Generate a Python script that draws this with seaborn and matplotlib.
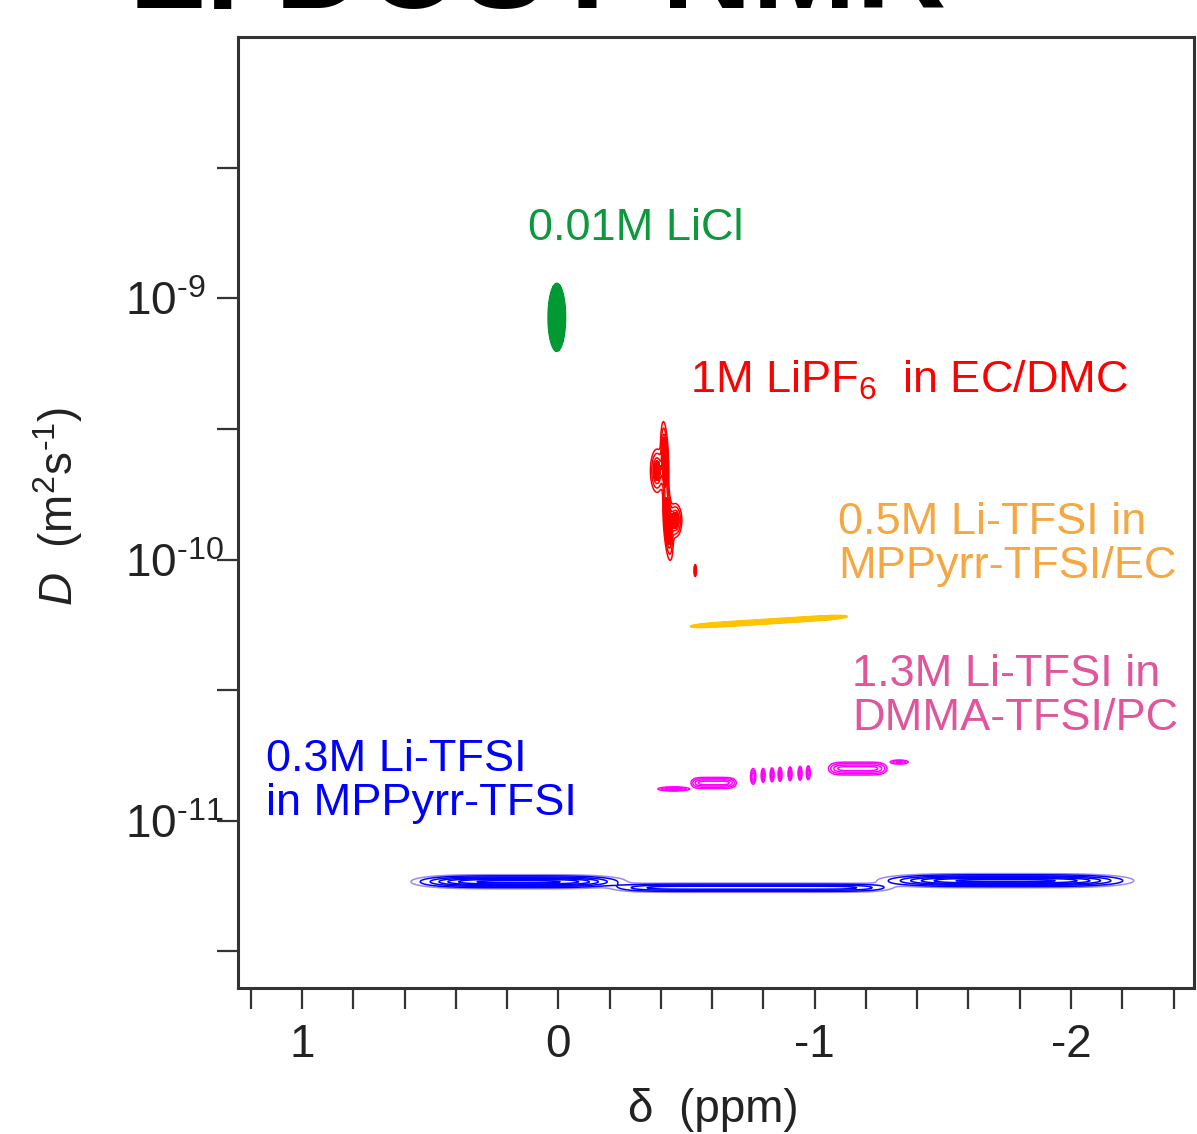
import numpy as np
import pandas as pd
import matplotlib
matplotlib.use('Agg')
import matplotlib.pyplot as plt
import seaborn as sns
from matplotlib.ticker import MultipleLocator, FixedLocator, FixedFormatter

# %% data
samples = ['LiCl', 'LiPF6', 'TFSI_EC', 'TFSI_PC', 'TFSI_IL']
line_colors = ['#009933', '#FF0000', '#FFC400', '#FF00FF', '#0000FF']
text_colors = ['#0A9A3C', '#FF0000', '#F5A742', '#E0559B', '#0000FF']
sample_labels = ['0.01M LiCl',
                 '1M LiPF$_6$  in EC/DMC',
                 '0.5M Li-TFSI in\nMPPyrr-TFSI/EC',
                 '1.3M Li-TFSI in\nDMMA-TFSI/PC',
                 '0.3M Li-TFSI\nin MPPyrr-TFSI']
label_delta = [0.117, -0.515, -1.092, -1.146, 1.142]
label_D = [1.85e-9, 4.86e-10, 1.14e-10, 3.0e-11, 1.41e-11]

# contour peak components (delta ppm, log10 D, half extents, slope, flatness, height)
peak_sample = ['LiCl',
               'LiPF6', 'LiPF6', 'LiPF6', 'LiPF6', 'LiPF6',
               'TFSI_EC',
               'TFSI_PC', 'TFSI_PC', 'TFSI_PC', 'TFSI_PC', 'TFSI_PC', 'TFSI_PC',
               'TFSI_PC', 'TFSI_PC', 'TFSI_PC', 'TFSI_PC', 'TFSI_PC',
               'TFSI_IL', 'TFSI_IL', 'TFSI_IL']
peak_delta = [0.006,
              -0.415, -0.428, -0.385, -0.456, -0.534,
              -0.821,
              -0.45, -0.606, -0.760, -0.799, -0.834, -0.865, -0.904, -0.943, -0.975, -1.168, -1.33,
              0.155, -0.755, -1.745]
peak_logD = [-9.073,
             -9.62, -9.86, -9.66, -9.85, -10.042,
             -10.237,
             -10.878, -10.855, -10.83, -10.826, -10.824, -10.822, -10.82, -10.818, -10.816,
             -10.80, -10.775,
             -11.233, -11.256, -11.229]
peak_half_delta = [0.034,
                   0.016, 0.02, 0.028, 0.028, 0.006,
                   0.306,
                   0.07, 0.092, 0.012, 0.009, 0.009, 0.009, 0.009, 0.009, 0.009, 0.119, 0.045,
                   0.42, 0.56, 0.50]
peak_half_logD = [0.13,
                  0.14, 0.13, 0.09, 0.07, 0.03,
                  0.009,
                  0.009, 0.024, 0.036, 0.032, 0.032, 0.032, 0.032, 0.032, 0.032, 0.028, 0.01,
                  0.027, 0.02, 0.027]
peak_slope = [0.0,
              3.0, 3.0, 0.0, 0.0, 0.0,
              -0.062,
              0.0, 0.0, 0.0, 0.0, 0.0, 0.0, 0.0, 0.0, 0.0, 0.0, 0.0,
              0.0, 0.0, 0.0]
peak_shape = [1,
              1, 1, 1, 1, 1,
              3,
              1, 3, 1, 1, 1, 1, 1, 1, 1, 3, 1,
              2, 4, 2]
peak_height = [1.0,
               1.0, 1.0, 0.7, 0.7, 0.4,
               1.0,
               0.6, 0.6, 0.5, 0.5, 0.5, 0.5, 0.5, 0.5, 0.5, 0.6, 0.4,
               1.0, 0.6, 1.0]

levels = [0.1, 0.2, 0.35, 0.5, 0.65, 0.8, 0.95]

peaks = pd.DataFrame({
    'sample': peak_sample, 'delta': peak_delta, 'logD': peak_logD,
    'hw': peak_half_delta, 'hh': peak_half_logD, 'k': peak_slope,
    'p': peak_shape, 'a': peak_height,
})

# %% style
sns.set_theme(style='ticks')
plt.rcParams['font.family'] = ['Liberation Sans', 'DejaVu Sans']
plt.rcParams['mathtext.fontset'] = 'custom'
plt.rcParams['mathtext.rm'] = 'Liberation Sans'
plt.rcParams['mathtext.it'] = 'Liberation Sans:italic'

fig = plt.figure(figsize=(11.97, 11.34), dpi=100)
ax = fig.add_axes([0.1988, 0.1287, 0.7987, 0.8387])
ax.set_yscale('log')

dg = np.linspace(1.25, -2.48, 1500)
lg = np.linspace(-11.64, -8.0, 2400)
X, Y = np.meshgrid(dg, lg)

fill_level = {'LiCl': 0.1, 'LiPF6': 0.45, 'TFSI_EC': 0.1}

for s, lc in zip(samples, line_colors):
    Z = np.zeros_like(X)
    for _, pk in peaks[peaks['sample'] == s].iterrows():
        dx = X - pk['delta']
        dy = Y - pk['logD'] - pk['k'] * dx
        r = (np.abs(dx) / pk['hw']) ** (2 * pk['p']) + (dy / pk['hh']) ** 2
        Z += pk['a'] * np.power(10.0, -np.minimum(r, 50))
    if s in fill_level:
        ax.contourf(X, 10 ** Y, Z, levels=[fill_level[s], 10], colors=[lc])
    cols = [lc] * len(levels)
    if s == 'TFSI_IL':
        cols[0] = '#9A8CF0'
    ax.contour(X, 10 ** Y, Z, levels=levels, colors=cols, linewidths=1.1)

for lab, x, y, c in zip(sample_labels, label_delta, label_D, text_colors):
    ax.text(x, y, lab, color=c, fontsize=32.5, ha='left', va='center', linespacing=1.1)

ax.set_xlim(1.25, -2.48)
ax.set_ylim(10 ** -11.64, 10 ** -8.0)

ax.set_xticks([1, 0, -1, -2])
ax.set_xticklabels(['1', '0', '-1', '-2'])
ax.xaxis.set_minor_locator(MultipleLocator(0.2))
ax.yaxis.set_major_locator(FixedLocator([1e-11, 1e-10, 1e-9]))
ax.yaxis.set_major_formatter(FixedFormatter([r'$10^{\text{-11}}$', r'$10^{\text{-10}}$',
                                             r'$10^{\text{-9}}$']))
ax.yaxis.set_minor_locator(FixedLocator([10 ** -11.5, 10 ** -10.5, 10 ** -9.5, 10 ** -8.5]))

for sp in ax.spines.values():
    sp.set_color('#333333')
    sp.set_linewidth(2.2)
ax.tick_params(which='both', direction='out', length=15, width=1.6, color='#333333',
               labelcolor='#222222')
ax.tick_params(axis='x', which='major', labelsize=33, pad=10)
ax.tick_params(axis='y', which='major', labelsize=33, pad=66)
ax.tick_params(which='minor', labelleft=False, labelbottom=False)
for lbl in ax.get_yticklabels():
    lbl.set_ha('left')

ax.set_xlabel('δ  (ppm)', fontsize=33, color='#222222')
ax.xaxis.label.set_va('center')
ax.xaxis.set_label_coords(0.497, -0.128)
ax.set_ylabel(r'$D$  (m$^2$s$^{\text{-1}}$)', fontsize=33, color='#222222')
ax.yaxis.label.set_va('center')
ax.yaxis.set_label_coords(-0.188, 0.506)

fig.text(0.449, 0.993, 'Li DOSY NMR', fontsize=90, fontweight='bold',
         ha='center', va='baseline', color='black')

fig.savefig('out.png', dpi=100)
